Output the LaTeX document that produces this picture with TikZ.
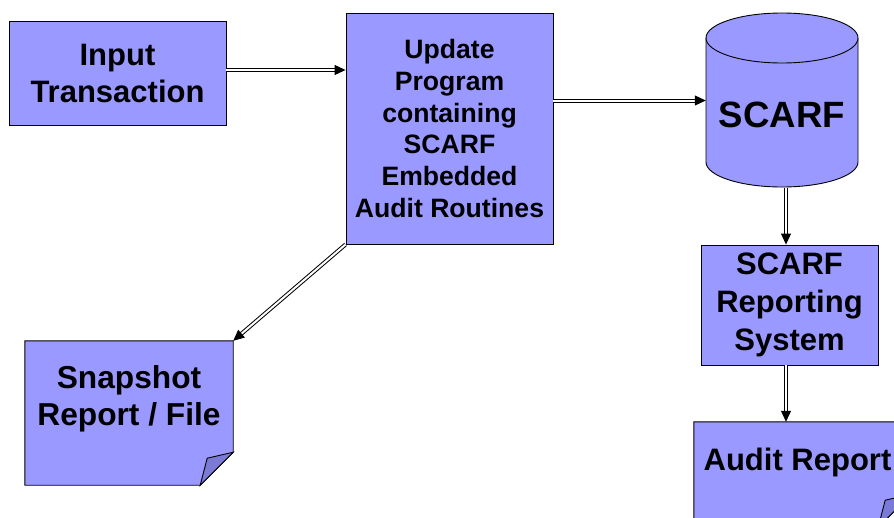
\documentclass[tikz,border=0pt]{standalone}
\usepackage{fontspec}
\setmainfont{Liberation Sans}
\usetikzlibrary{arrows.meta, positioning, backgrounds}
\definecolor{Box_Lilac}{HTML}{9999FF}
\definecolor{Fold_Lilac}{HTML}{7B7BD6}

\tikzset{
  procbox/.style={draw=black, line width=0.9pt, fill=Box_Lilac, align=center, inner sep=0pt},
  notetext/.style={align=center, inner sep=0pt},
  flow/.style={draw=black, line width=1pt, double=white, double distance=2pt,
    -{Triangle[length=11pt, width=10pt]}},
}

\begin{document}
\begin{tikzpicture}[x=1pt, y=-1pt]
\useasboundingbox (0,0) rectangle (894,517);
% --- Process boxes ---
\node[procbox, minimum width=217pt, minimum height=104pt,
  font=\bfseries\fontsize{31}{37}\selectfont] (input) at (117.5,73) {Input\\Transaction};
\node[procbox, minimum width=207pt, minimum height=231pt,
  font=\bfseries\fontsize{26.6}{31.7}\selectfont] (update) at (449.5,128.5)
  {Update\\Program\\containing\\SCARF\\Embedded\\Audit Routines};
\node[procbox, minimum width=177pt, minimum height=120pt,
  font=\bfseries\fontsize{31}{38}\selectfont] (report) at (789.5,305) {SCARF\\Reporting\\System};
% --- SCARF file (cylinder) ---
\filldraw[draw=black, line width=0.9pt, fill=Box_Lilac] (706,38) -- (706,162)
  arc[start angle=180, end angle=0, x radius=76, y radius=25] -- (858,38);
\draw[line width=0.9pt, fill=Box_Lilac] (782,38) ellipse[x radius=76, y radius=25];
\node[minimum width=152pt, minimum height=175pt, inner sep=0pt] (scarf) at (782,100.5) {};
\node[notetext, font=\bfseries\fontsize{36.6}{44}\selectfont] (scarftext) at (782,115) {SCARF};
% --- Report notes with folded corner ---
\node[minimum width=208pt, minimum height=144pt, inner sep=0pt] (snap) at (129,413) {};
\node[minimum width=217pt, minimum height=105pt, inner sep=0pt] (audit) at (802.5,474.5) {};
\begin{scope}[on background layer]
\foreach \n in {snap,audit} {
  \filldraw[draw=black, line width=0.9pt, fill=Box_Lilac] (\n.north west) -- (\n.north east)
    -- ([yshift=33pt]\n.south east) -- ([xshift=-33pt]\n.south east) -- (\n.south west) -- cycle;
  \filldraw[draw=black, line width=0.9pt, fill=Fold_Lilac] ([xshift=-33pt]\n.south east)
    -- ([xshift=-26pt, yshift=27pt]\n.south east) -- ([yshift=33pt]\n.south east) -- cycle;
}
\end{scope}
\node[notetext, font=\bfseries\fontsize{31.7}{37}\selectfont] (snaptext) at ([yshift=14.5pt]snap.center)
  {Snapshot\\Report / File};
\node[notetext, font=\bfseries\fontsize{31}{37}\selectfont] (audittext) at ([xshift=-5pt, yshift=12.5pt]audit.center)
  {Audit Report};
% --- Flow arrows ---
\draw[flow] ([yshift=3pt]input.east) -- ([yshift=3pt]input.east -| update.west);
\draw[flow] (update.east |- scarf.west) -- (scarf.west);
\draw[flow] ([xshift=4pt]scarf.south) -- ([xshift=4pt]scarf.south |- report.north);
\draw[flow] ([xshift=-3.5pt]report.south) -- ([xshift=-3.5pt]report.south |- audit.north);
\draw[flow] (update.south west) -- (snap.north east);
\end{tikzpicture}
\end{document}
